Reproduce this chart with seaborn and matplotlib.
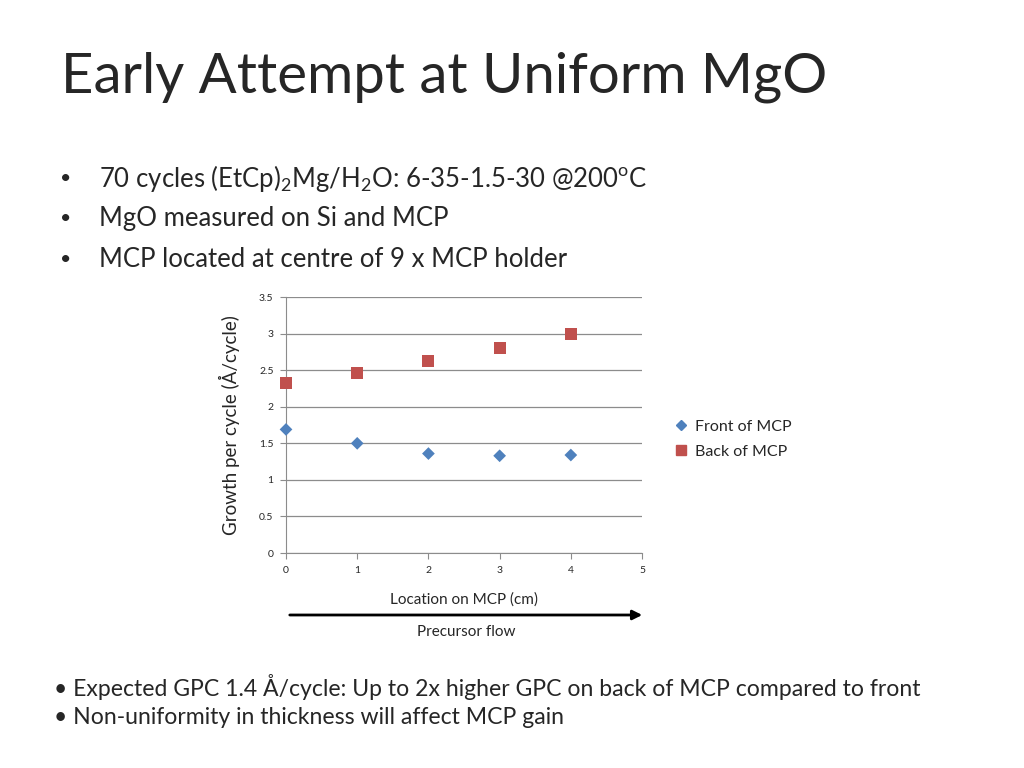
import numpy as np
import pandas as pd
import seaborn as sns
import matplotlib.pyplot as plt

# Data
location = [0, 1, 2, 3, 4]
front_gpc = [1.69, 1.50, 1.36, 1.33, 1.34]
back_gpc = [2.33, 2.46, 2.62, 2.80, 2.99]
series_names = ['Front of MCP', 'Back of MCP']
series_colors = ['#4F81BD', '#C0504D']
series_markers = ['D', 's']

df = pd.DataFrame({
    'loc': location * 2,
    'gpc': front_gpc + back_gpc,
    'series': [series_names[0]] * 5 + [series_names[1]] * 5,
})

sns.set_style('white')
plt.rcParams['font.family'] = ['Lato', 'DejaVu Sans']

fig = plt.figure(figsize=(10.24, 7.68), dpi=100)
ax = fig.add_axes([0.2793, 0.2799, 0.3477, 0.3333])

sns.scatterplot(data=df, x='loc', y='gpc', hue='series', style='series', size='series',
                palette=dict(zip(series_names, series_colors)),
                markers=dict(zip(series_names, series_markers)),
                sizes=dict(zip(series_names, [42, 75])),
                edgecolor='none', ax=ax, legend=False, clip_on=False, zorder=3)

ax.set_xlim(0, 5)
ax.set_ylim(0, 3.5)
ax.set_xticks(range(6))
ax.set_yticks(np.arange(0, 3.51, 0.5))
ax.set_yticklabels(['0', '0.5', '1', '1.5', '2', '2.5', '3', '3.5'])
ax.yaxis.grid(True, color='#8c8c8c', lw=0.9)
ax.set_axisbelow(True)
for s in ['top', 'right']:
    ax.spines[s].set_visible(False)
for s in ['left', 'bottom']:
    ax.spines[s].set_color('#8c8c8c')
ax.tick_params(axis='both', length=4, color='#8c8c8c', labelsize=7.5, direction='out',
               bottom=True, left=True, pad=5)
ax.set_xlabel('Location on MCP (cm)', fontsize=11, labelpad=13)
ax.set_ylabel('Growth per cycle (Å/cycle)', fontsize=13.5, labelpad=14)

# legend
handles = [plt.Line2D([], [], marker=m, color=c, ls='none', markersize=7 if m == 's' else 5.5)
           for m, c in zip(series_markers, series_colors)]
fig.legend(handles, series_names, loc='upper left', bbox_to_anchor=(0.642, 0.472),
           frameon=False, fontsize=11.5, handletextpad=0.25, labelspacing=0.65,
           handlelength=1.2)

# title and bullets
fig.text(0.06, 0.90, 'Early Attempt at Uniform MgO', fontsize=40.5, va='center')
bullets = [r'70 cycles (EtCp)$_\mathregular{2}$Mg/H$_\mathregular{2}$O: 6-35-1.5-30 @200$^\mathregular{o}$C',
           'MgO measured on Si and MCP',
           'MCP located at centre of 9 x MCP holder']
for i, b in enumerate(bullets):
    y = 0.768 - i * 0.053
    fig.text(0.059, y, '•', fontsize=14, va='center')
    fig.text(0.097, y, b, fontsize=18.5, va='center')

# precursor flow arrow
ax.annotate('', xy=(645 / 1024, 1 - 615 / 768), xytext=(287 / 1024, 1 - 615 / 768),
            xycoords='figure fraction',
            arrowprops=dict(arrowstyle='-|>', color='black', lw=2, mutation_scale=14))
fig.text(466 / 1024, 1 - 632 / 768, 'Precursor flow', fontsize=11, ha='center', va='center')

fig.text(0.053, 1 - 687 / 768, '• Expected GPC 1.4 Å/cycle: Up to 2x higher GPC on back of MCP compared to front',
         fontsize=16.6, va='center')
fig.text(0.053, 1 - 717 / 768, '• Non-uniformity in thickness will affect MCP gain',
         fontsize=16.6, va='center')

fig.savefig('out.png', dpi=100)
